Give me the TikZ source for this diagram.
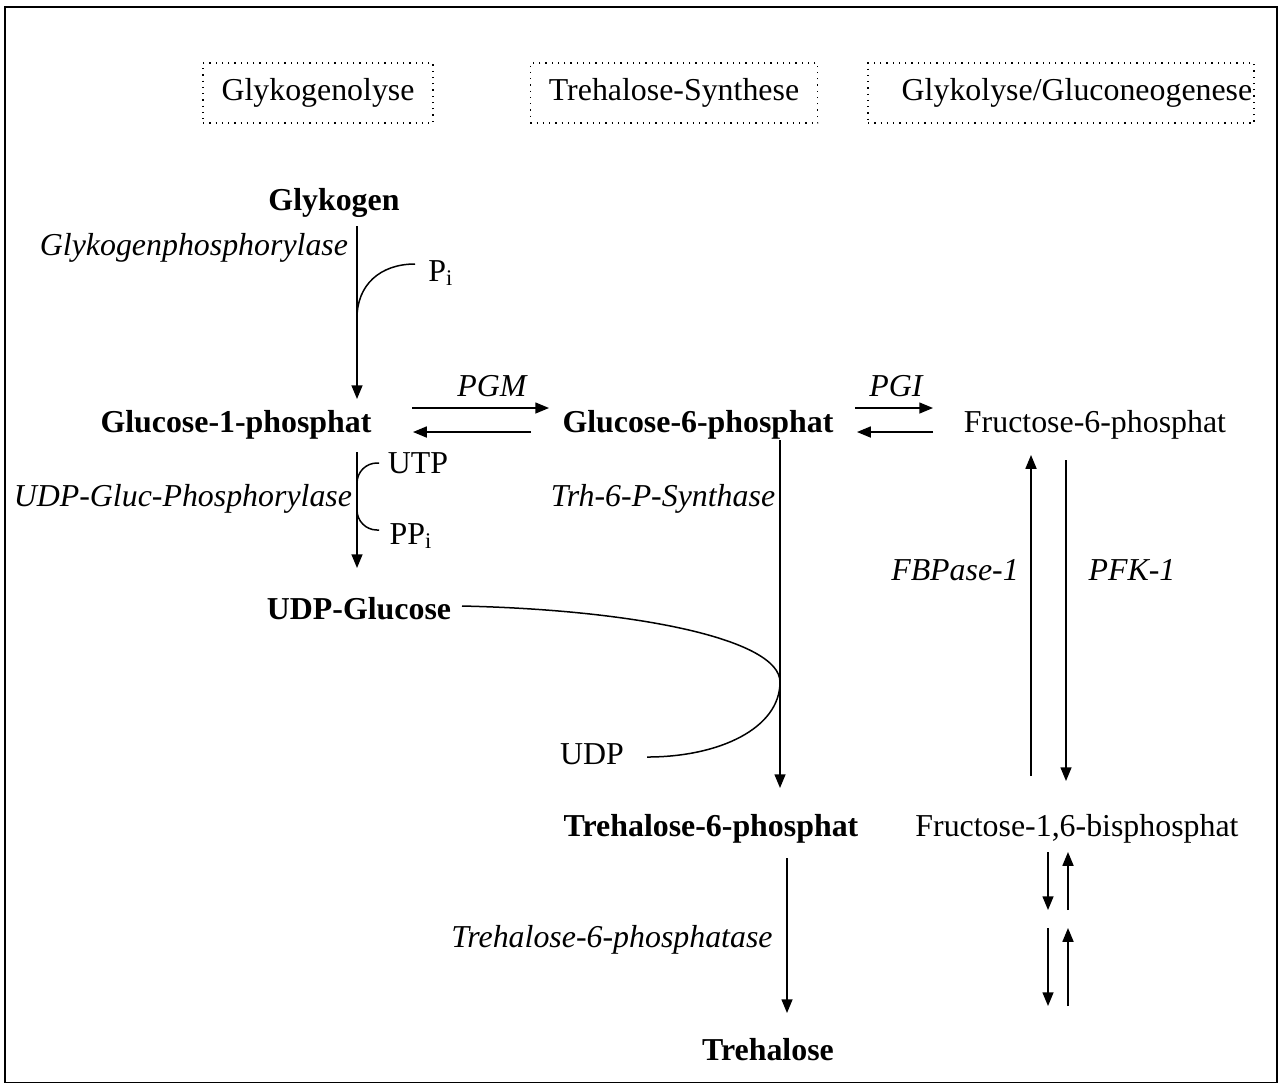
\documentclass[tikz,border=0pt]{standalone}
\usepackage{fontspec}
\setmainfont{Liberation Serif}
\usetikzlibrary{arrows.meta}

\tikzset{
  txt/.style={font=\fontsize{12.75}{15}\selectfont, inner sep=1pt},
  met/.style={txt, font=\fontsize{12.75}{15}\selectfont\bfseries},
  enz/.style={txt, font=\fontsize{12.75}{15}\selectfont\itshape},
  phase/.style={draw, dotted, line width=0.5pt, minimum height=24pt, inner sep=0pt,
    font=\fontsize{12.75}{15}\selectfont},
  rxn/.style={line width=0.6pt, -{Triangle[length=5.5pt,width=4.4pt]}},
  side/.style={line width=0.6pt}
}

\begin{document}
\begin{tikzpicture}[x=0.4pt, y=-0.4pt]
  \useasboundingbox (0,0) rectangle (1278,1082);
  \draw[line width=0.8pt] (5,7) rectangle (1277,1083);

  % Pathway headers
  \node[phase, minimum width=92pt] (glykogenolyse) at (318,93) {Glykogenolyse};
  \node[phase, minimum width=115pt] (trhsynthese) at (674,93) {Trehalose-Synthese};
  \node[phase, minimum width=154.4pt, text width=153pt, align=right] (glykolyse) at (1061,93) {Glykolyse/Gluconeogenese};

  % Metabolites
  \node[met] (glykogen) at (334,203) {Glykogen};
  \node[met] (g1p) at (236,425) {Glucose-1-phosphat};
  \node[met] (g6p) at (698,425) {Glucose-6-phosphat};
  \node[txt] (f6p) at (1095,425) {Fructose-6-phosphat};
  \node[met] (udpglc) at (359,609) {UDP-Glucose};
  \node[txt] (udp) at (592,754) {UDP};
  \node[met] (t6p) at (711,829) {Trehalose-6-phosphat};
  \node[txt] (fbp) at (1077,829) {Fructose-1,6-bisphosphat};
  \node[met] (tre) at (768,1050) {Trehalose};

  % Cosubstrates
  \node[txt] (pi) at (441,273) {P\textsubscript{i}};
  \node[txt] (utp) at (418,463) {UTP};
  \node[txt] (ppi) at (411,536) {PP\textsubscript{i}};

  % Enzymes
  \node[enz, anchor=east] (glyphos) at (351,248) {Glykogenphosphorylase};
  \node[enz] (pgm) at (492,386) {PGM};
  \node[enz] (pgi) at (896,386) {PGI};
  \node[enz, anchor=east] (udpgphos) at (355,499) {UDP-Gluc-Phosphorylase};
  \node[enz] (trhsyn) at (663,499) {Trh-6-P-Synthase};
  \node[enz] (fbpase) at (955,570) {FBPase-1};
  \node[enz] (pfk) at (1132,570) {PFK-1};
  \node[enz] (t6pase) at (612,940) {Trehalose-6-phosphatase};

  % Glykogenolyse
  \coordinate (glyk-a) at (357,226);
  \coordinate (glyk-b) at (357,399);
  \coordinate (pi-in) at (357,318);
  \draw[rxn] (glyk-a) -- (glyk-b);
  \draw[side] (415,264) .. controls (380,264) and (357,285) .. (pi-in);

  % Glucose-1-phosphat <-> Glucose-6-phosphat
  \coordinate (pgm-a) at (412,408);
  \coordinate (pgm-b) at (549,408);
  \coordinate (pgm-c) at (531,432);
  \coordinate (pgm-d) at (413,432);
  \draw[rxn] (pgm-a) -- (pgm-b);
  \draw[rxn] (pgm-c) -- (pgm-d);

  % Glucose-6-phosphat <-> Fructose-6-phosphat
  \coordinate (pgi-a) at (855,408);
  \coordinate (pgi-b) at (933,408);
  \coordinate (pgi-c) at (933,432);
  \coordinate (pgi-d) at (857,432);
  \draw[rxn] (pgi-a) -- (pgi-b);
  \draw[rxn] (pgi-c) -- (pgi-d);

  % UDP-Glucose
  \coordinate (ugp-a) at (357,452);
  \coordinate (ugp-b) at (357,568);
  \draw[rxn] (ugp-a) -- (ugp-b);
  \draw[side, rounded corners=8pt] (379,463) -- (357,463) -- (357,530) -- (379,530);

  % Trehalose-6-phosphat
  \coordinate (tps-a) at (780,440);
  \coordinate (tps-b) at (780,788);
  \coordinate (tps-m) at (780,682);
  \draw[rxn] (tps-a) -- (tps-b);
  \draw[side] (462,606) .. controls (640,610) and (780,640) .. (tps-m)
    .. controls (780,728) and (720,757) .. (647,757);

  % Trehalose
  \coordinate (tpp-a) at (787,858);
  \coordinate (tpp-b) at (787,1013);
  \draw[rxn] (tpp-a) -- (tpp-b);

  % Fructose-6-phosphat <-> Fructose-1,6-bisphosphat
  \coordinate (fbpase-a) at (1031,776);
  \coordinate (fbpase-b) at (1031,455);
  \coordinate (pfk-a) at (1066,460);
  \coordinate (pfk-b) at (1066,781);
  \draw[rxn] (fbpase-a) -- (fbpase-b);
  \draw[rxn] (pfk-a) -- (pfk-b);

  % Glykolyse weiter
  \foreach \ya/\yb in {852/910, 928/1006} {
    \draw[rxn] (1048,\ya) -- (1048,\yb);
    \draw[rxn] (1068,\yb) -- (1068,\ya);
  }
\end{tikzpicture}
\end{document}
